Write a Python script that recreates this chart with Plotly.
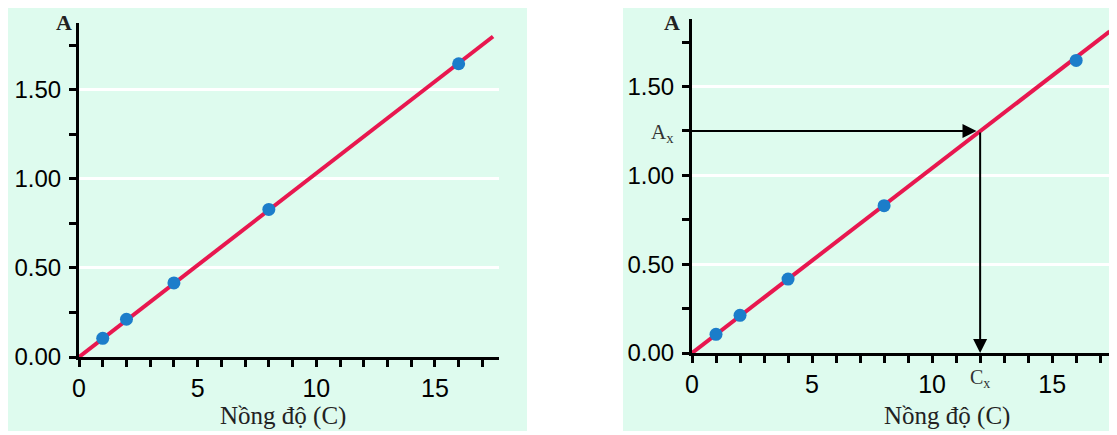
import plotly.graph_objects as go

# ---- data ----
conc = [1, 2, 4, 8, 16]
absorb = [0.105, 0.212, 0.416, 0.829, 1.647]
line_left_x = [0, 17.45]
line_left_y = [0, 1.80]
line_right_x = [0, 17.4]
line_right_y = [0, 1.81]
x_ticks = [0, 5, 10, 15]
y_ticks = [0.0, 0.5, 1.0, 1.5]
Cx = 12.0
Ax = 1.25

# page has an 8px body margin; the figure fills the rest of the window
OFF = 8
W, H = 1117 - OFF, 435 - OFF
RED = "#E8174F"
BLUE = "#1C7DCA"
BG = "#DEFBEE"
TICKFONT = "Liberation Sans, Arial, sans-serif"
SERIF = "Liberation Serif, Times New Roman, serif"

def px(x):
    return max(0.0, min(1.0, (x - OFF) / W))

def py(y):
    return max(0.0, min(1.0, (H - (y - OFF)) / H))

fig = go.Figure()

for xa, ya, lx, ly in [("x", "y", line_left_x, line_left_y),
                       ("x2", "y2", line_right_x, line_right_y)]:
    fig.add_trace(go.Scatter(x=lx, y=ly, mode="lines", xaxis=xa, yaxis=ya,
                             line=dict(color=RED, width=4), showlegend=False,
                             hoverinfo="skip"))
    fig.add_trace(go.Scatter(x=conc, y=absorb, mode="markers", xaxis=xa, yaxis=ya,
                             marker=dict(color=BLUE, size=13), showlegend=False))

def xaxis(domain):
    return dict(domain=domain, range=[0, 17.7], tickvals=x_ticks, ticktext=[str(v) for v in x_ticks],
                showline=True, linecolor="black", linewidth=3, ticks="outside",
                ticklen=7, tickwidth=2.5, tickcolor="black", showgrid=False, zeroline=False,
                tickfont=dict(family=TICKFONT, size=25, color="black"),
                ticklabelstandoff=0, automargin=False,
                minor=dict(dtick=1, ticks="outside", ticklen=7, tickwidth=2.5, tickcolor="black", showgrid=False),
                fixedrange=True)

def yaxis(domain, anchor, top):
    return dict(domain=domain, anchor=anchor, range=[0, top], tickvals=y_ticks,
                ticktext=["%.2f" % v for v in y_ticks],
                showline=True, linecolor="black", linewidth=3, ticks="outside",
                ticklen=7, tickwidth=2.5, tickcolor="black", showgrid=True,
                gridcolor="white", gridwidth=2.5, zeroline=False,
                tickfont=dict(family=TICKFONT, size=24, color="black"),
                ticklabelstandoff=3, automargin=False,
                minor=dict(dtick=0.25, tick0=0, ticks="outside", ticklen=7, tickwidth=2.5,
                           tickcolor="black", showgrid=False),
                fixedrange=True)

fig.update_layout(
    width=W, height=H,
    margin=dict(l=0, r=0, t=0, b=0, autoexpand=False),
    paper_bgcolor="white", plot_bgcolor="rgba(0,0,0,0)",
    xaxis=dict(**xaxis([px(79), px(499)]), anchor="y"),
    yaxis=yaxis([py(357), py(23)], "x", 1.876),
    xaxis2=dict(**xaxis([px(692), 1.0]), anchor="y2"),
    yaxis2=yaxis([py(353), py(19)], "x2", 1.88),
    shapes=[
        dict(type="rect", xref="paper", yref="paper", x0=px(6), x1=px(527), y0=py(431), y1=py(6),
             fillcolor=BG, line=dict(width=0), layer="below"),
        dict(type="rect", xref="paper", yref="paper", x0=px(623), x1=1.0, y0=py(431), y1=py(6),
             fillcolor=BG, line=dict(width=0), layer="below"),
    ],
)

ann = []
# axis titles
for cx, ty in [(283, 416), (947, 416)]:
    ann.append(dict(xref="paper", yref="paper", x=px(cx), y=py(ty), text="Nồng độ (C)",
                    showarrow=False, font=dict(family=SERIF, size=25, color="#222"),
                    xanchor="center", yanchor="middle"))
for cx, ty in [(64, 22), (672, 22)]:
    ann.append(dict(xref="paper", yref="paper", x=px(cx), y=py(ty), text="<b>A</b>",
                    showarrow=False, font=dict(family=SERIF, size=22, color="#222"),
                    xanchor="center", yanchor="middle"))
# Ax / Cx labels
ann.append(dict(xref="paper", yref="paper", x=px(662), y=py(133), text="A<sub>x</sub>",
                showarrow=False, font=dict(family=SERIF, size=21, color="#333"),
                xanchor="center", yanchor="middle"))
ann.append(dict(xref="x2", yref="paper", x=Cx, y=py(378), text="C<sub>x</sub>",
                showarrow=False, font=dict(family=SERIF, size=20, color="#333"),
                xanchor="center", yanchor="middle"))
# arrows
ann.append(dict(xref="x2", yref="y2", axref="x2", ayref="y2", x=Cx - 0.15, y=Ax, ax=-0.38, ay=Ax,
                text="", showarrow=True, arrowhead=2, arrowsize=1.4, arrowwidth=2, arrowcolor="black"))
ann.append(dict(xref="x2", yref="y2", axref="x2", ayref="y2", x=Cx, y=0, ax=Cx, ay=Ax,
                text="", showarrow=True, arrowhead=2, arrowsize=1.4, arrowwidth=2, arrowcolor="black"))
fig.update_layout(annotations=ann)

fig.write_html("out.html")
